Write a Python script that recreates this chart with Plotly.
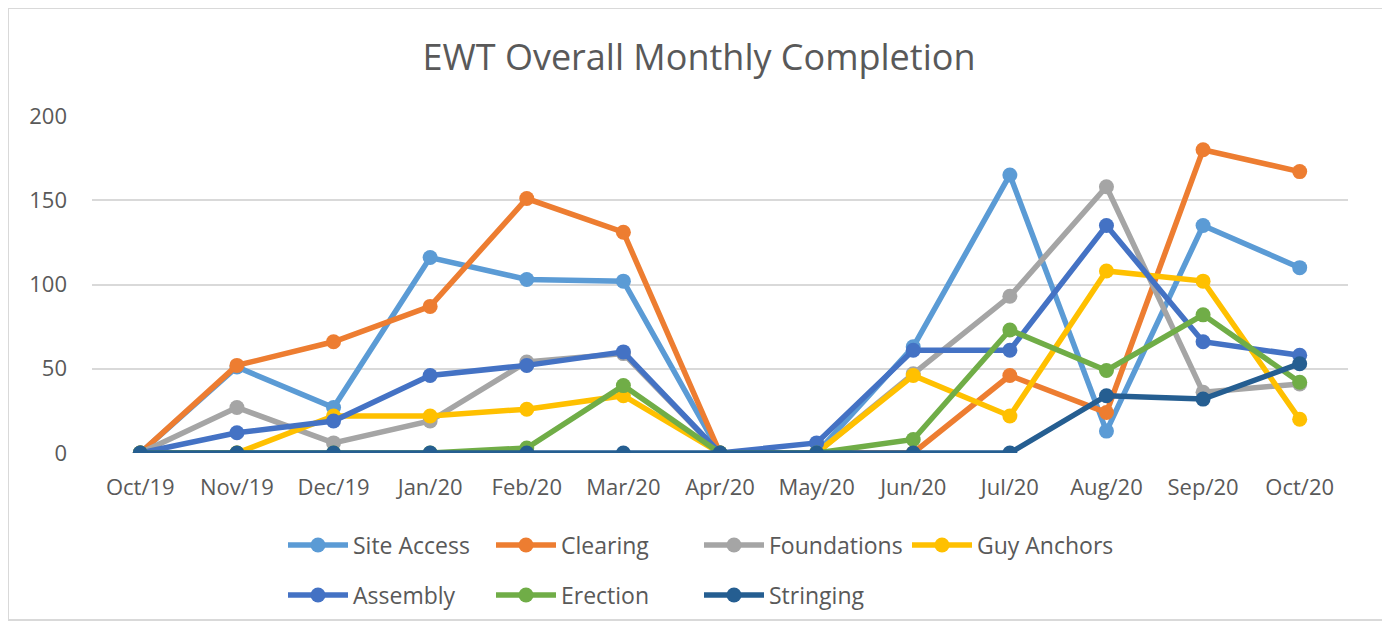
import plotly.graph_objects as go

months = ["Oct/19", "Nov/19", "Dec/19", "Jan/20", "Feb/20", "Mar/20", "Apr/20",
          "May/20", "Jun/20", "Jul/20", "Aug/20", "Sep/20", "Oct/20"]

site_access = [0, 51, 27, 116, 103, 102, 0, 0, 63, 165, 13, 135, 110]
clearing    = [0, 52, 66, 87, 151, 131, 0, 0, 0, 46, 24, 180, 167]
foundations = [0, 27, 6, 19, 54, 59, 0, 0, 47, 93, 158, 36, 41]
guy_anchors = [0, 0, 22, 22, 26, 34, 0, 0, 46, 22, 108, 102, 20]
assembly    = [0, 12, 19, 46, 52, 60, 0, 6, 61, 61, 135, 66, 58]
erection    = [0, 0, 0, 0, 3, 40, 0, 0, 8, 73, 49, 82, 42]
stringing   = [0, 0, 0, 0, 0, 0, 0, 0, 0, 0, 34, 32, 53]

series = [
    ("Site Access", site_access, "#5B9BD5", "legend"),
    ("Clearing", clearing, "#ED7D31", "legend"),
    ("Foundations", foundations, "#A5A5A5", "legend"),
    ("Guy Anchors", guy_anchors, "#FFC000", "legend"),
    ("Assembly", assembly, "#4472C4", "legend2"),
    ("Erection", erection, "#70AD47", "legend2"),
    ("Stringing", stringing, "#255E91", "legend2"),
]

FONT = "Open Sans"
TXT = "#595959"

fig = go.Figure()
for name, vals, color, lg in series:
    fig.add_trace(go.Scatter(
        x=months, y=vals, name=name, mode="lines+markers",
        line=dict(color=color, width=5.5),
        marker=dict(color=color, size=15),
        legend=lg,
    ))

OFF = 8  # page body margin
W, H = 1390 - OFF, 629 - OFF
# plot area in reference pixels: x 92..1348, y 116..453
L = 92 - OFF
T = 116 - OFF
R = 1390 - 1348
B = 629 - 453
pw, ph = W - L - R, H - T - B

def px_x(px):
    return (px - OFF - L) / pw

def px_y(py):
    return (H - B - (py - OFF)) / ph

fig.update_layout(
    width=W, height=H,
    margin=dict(l=L, r=R, t=T, b=B),
    paper_bgcolor="white", plot_bgcolor="white",
    font=dict(family=FONT, color=TXT, size=22),
    title=dict(text="EWT Overall Monthly Completion", x=0.5, xanchor="center",
               y=1 - (57 - OFF) / H, yanchor="middle",
               font=dict(family=FONT, size=36, color=TXT)),
    xaxis=dict(range=[-0.5, 12.5], showgrid=False, zeroline=False,
               showline=False, ticks="", ticklabelstandoff=19,
               tickfont=dict(size=22, color=TXT)),
    yaxis=dict(range=[0, 200], dtick=50, showgrid=True, gridcolor="#D9D9D9",
               gridwidth=2, zeroline=False, showline=False, ticks="",
               ticklabelstandoff=24, tickfont=dict(size=22, color=TXT)),
    legend=dict(orientation="h", x=px_x(283), y=px_y(545), xanchor="left",
                yanchor="middle", font=dict(size=23, color=TXT),
                itemwidth=60, entrywidth=133, bgcolor="rgba(0,0,0,0)"),
    legend2=dict(orientation="h", x=px_x(283), y=px_y(595), xanchor="left",
                 yanchor="middle", font=dict(size=23, color=TXT),
                 itemwidth=60, entrywidth=133, bgcolor="rgba(0,0,0,0)"),
    showlegend=True,
    shapes=[dict(type="rect", xref="paper", yref="paper",
                 x0=px_x(8), x1=px_x(1383), y0=px_y(620), y1=px_y(8),
                 line=dict(color="#D9D9D9", width=2), layer="below")],
)

fig.write_html("out.html")
